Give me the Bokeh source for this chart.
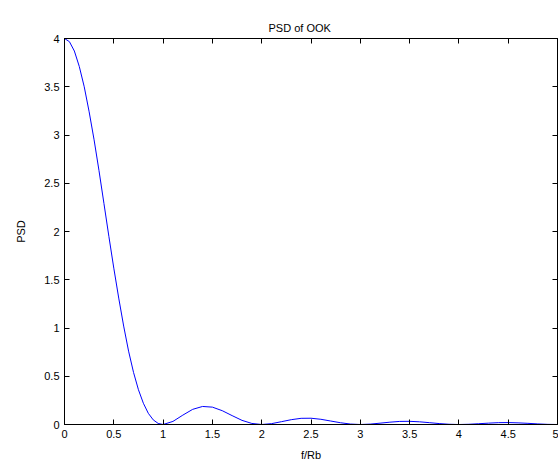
from bokeh.plotting import figure
from bokeh.models import LinearAxis, FixedTicker, Range1d
from bokeh.embed import file_html
from bokeh.resources import INLINE

# Data
f_rb = [0.0, 0.05, 0.1, 0.15, 0.2, 0.25, 0.3, 0.35, 0.4, 0.45,
        0.5, 0.55, 0.6, 0.65, 0.7, 0.75, 0.8, 0.85, 0.9, 0.95,
        1.0, 1.1, 1.2, 1.3, 1.4, 1.5, 1.6, 1.7, 1.8, 1.9,
        2.0, 2.1, 2.2, 2.3, 2.4, 2.5, 2.6, 2.7, 2.8, 2.9,
        3.0, 3.1, 3.2, 3.3, 3.4, 3.5, 3.6, 3.7, 3.8, 3.9,
        4.0, 4.1, 4.2, 4.3, 4.4, 4.5, 4.6, 4.7, 4.8, 4.9, 5.0]
psd = [4.00, 3.967, 3.87, 3.71, 3.50, 3.24, 2.95, 2.63, 2.29, 1.95,
       1.62, 1.31, 1.02, 0.76, 0.54, 0.36, 0.22, 0.116, 0.048, 0.011,
       0.0, 0.032, 0.097, 0.157, 0.187, 0.180, 0.143, 0.092, 0.043, 0.011,
       0.0, 0.0088, 0.029, 0.050, 0.064, 0.065, 0.054, 0.036, 0.018, 0.0046,
       0.0, 0.004, 0.0137, 0.024, 0.032, 0.033, 0.028, 0.019, 0.0097, 0.0025,
       0.0, 0.0023, 0.008, 0.014, 0.019, 0.020, 0.017, 0.012, 0.0061, 0.0016, 0.0]
x_ticks = [0, 0.5, 1, 1.5, 2, 2.5, 3, 3.5, 4, 4.5, 5]
y_ticks = [0, 0.5, 1, 1.5, 2, 2.5, 3, 3.5, 4]

FONT = "Liberation Sans"
FS = "11px"

p = figure(width=558, height=463, output_backend="svg", toolbar_location=None,
           x_range=Range1d(0, 5), y_range=Range1d(0, 4),
           min_border_left=64, min_border_right=1, min_border_top=38,
           min_border_bottom=37, title="PSD of OOK")
p.title.text_font = FONT
p.title.text_font_size = FS
p.title.text_font_style = "normal"
p.title.text_color = "black"
p.title.align = "left"
p.title.offset = 204

p.background_fill_color = "white"
p.border_fill_color = "white"
p.outline_line_color = "black"
p.outline_line_width = 1
p.xgrid.visible = False
p.ygrid.visible = False

p.line(f_rb, psd, line_color="#0000ff", line_width=1)

for ax, ticks in ((p.xaxis[0], x_ticks), (p.yaxis[0], y_ticks)):
    ax.ticker = FixedTicker(ticks=ticks)
    ax.major_tick_in = 5
    ax.major_tick_out = 0
    ax.minor_tick_line_color = None
    ax.axis_line_color = "black"
    ax.major_tick_line_color = "black"
    ax.major_label_text_font = FONT
    ax.major_label_text_font_size = FS
    ax.major_label_text_color = "black"
    ax.axis_label_text_font = FONT
    ax.axis_label_text_font_size = FS
    ax.axis_label_text_font_style = "normal"
    ax.axis_label_text_color = "black"
    ax.major_label_standoff = 5

p.xaxis[0].axis_label = "f/Rb"
p.xaxis[0].axis_label_standoff = 8
p.yaxis[0].axis_label = "PSD"
p.yaxis[0].axis_label_standoff = 14

for side, ticks in (("above", x_ticks), ("right", y_ticks)):
    a = LinearAxis(ticker=FixedTicker(ticks=ticks))
    a.major_tick_in = 5
    a.major_tick_out = 0
    a.minor_tick_line_color = None
    a.major_label_text_color = None
    a.major_label_text_font_size = "1px"
    a.major_label_standoff = 0
    a.axis_line_color = "black"
    a.major_tick_line_color = "black"
    p.add_layout(a, side)

open("out.html", "w").write(file_html(p, INLINE))
